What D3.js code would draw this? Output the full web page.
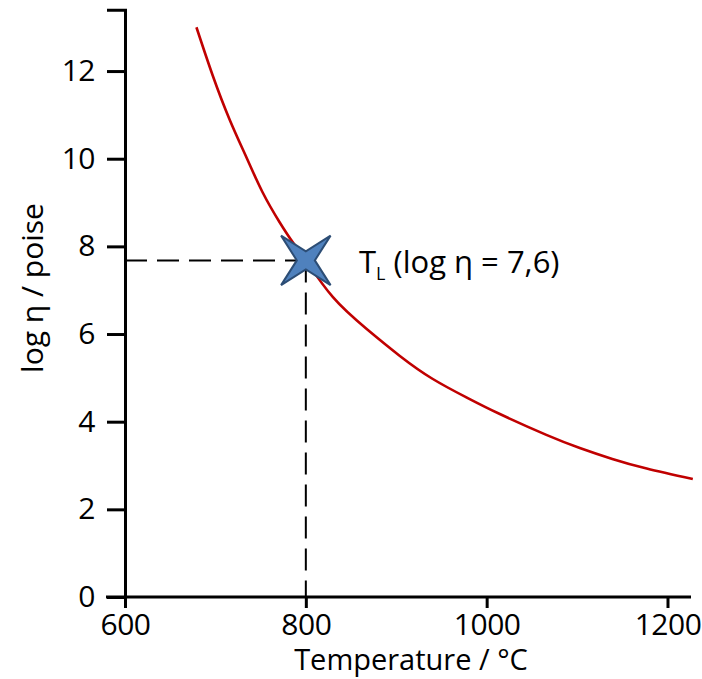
<!DOCTYPE html>
<html lang="en">
  <head>
    <meta charset="utf-8">
    <title>Viscosity curve</title>
    <script src="https://d3js.org/d3.v7.min.js"></script>
    <style>
      body { margin: 0; background: #fff; }
      text { font-family: "Open Sans", sans-serif; fill: #000; }
    </style>
  </head>
  <body>
    <script>
      // values
      const temps = [679, 697, 716, 735, 752, 771, 786, 800, 830, 867, 904, 940, 978, 1014, 1066, 1103, 1139, 1177, 1228]
      const logEta = [13.0, 11.9, 10.88, 10.0, 9.24, 8.55, 8.08, 7.68, 6.84, 6.12, 5.5, 4.98, 4.55, 4.18, 3.7, 3.4, 3.15, 2.93, 2.69]
      const xTicks = [600, 800, 1000, 1200]
      const yTicks = [0, 2, 4, 6, 8, 10, 12]
      const tlTemp = 800
      const tlValue = 7.68

      const w = 702
      const h = 679

      const x = d3.scaleLinear().domain([600, 1226]).range([125, 691])
      const y = d3.scaleLinear().domain([0, 13.4]).range([597, 9.7])

      const svg = d3.select('body')
        .append('svg')
        .attr('width', w)
        .attr('height', h)

      // dashed guides to the T_L point
      svg.append('line')
        .attr('x1', x(600)).attr('x2', x(tlTemp))
        .attr('y1', y(tlValue)).attr('y2', y(tlValue))
        .attr('stroke', '#000').attr('stroke-width', 2)
        .attr('stroke-dasharray', '22,10')
      svg.append('line')
        .attr('x1', x(tlTemp)).attr('x2', x(tlTemp))
        .attr('y1', y(tlValue)).attr('y2', y(0))
        .attr('stroke', '#000').attr('stroke-width', 2)
        .attr('stroke-dasharray', '22,10')

      // curve
      const pts = temps.map((t, i) => [t, logEta[i]])
      svg.append('path')
        .datum(pts)
        .attr('fill', 'none')
        .attr('stroke', '#c00000')
        .attr('stroke-width', 2.6)
        .attr('d', d3.line().x(d => x(d[0])).y(d => y(d[1])).curve(d3.curveNatural))

      // axes
      const xAxis = svg.append('g')
        .attr('transform', 'translate(0,' + y(0) + ')')
        .call(d3.axisBottom(x).tickValues(xTicks).tickFormat(d3.format('d')).tickSizeOuter(0).tickSize(11).tickPadding(6))
      const yAxis = svg.append('g')
        .attr('transform', 'translate(' + x(600) + ',0)')
        .call(d3.axisLeft(y).tickValues(yTicks).tickFormat(d3.format('d')).tickSizeOuter(0).tickSize(18).tickPadding(12))
      ;[xAxis, yAxis].forEach(g => {
        g.selectAll('.domain').attr('stroke-width', 3)
        g.selectAll('.tick line').attr('stroke-width', 3)
        g.selectAll('.tick text')
          .style('font-family', '"Open Sans", sans-serif')
          .style('font-size', '30px')
          .style('letter-spacing', '-0.5px')
          .attr('fill', '#000')
      })
      xAxis.select('.domain').attr('d', 'M' + (x(600) - 19) + ',0H' + x(1226))

      // star marker
      const cx = x(tlTemp)
      const cy = y(tlValue)
      const outer = 35
      const inner = 9
      const starPts = d3.range(8).map(i => {
        const a = Math.PI / 4 + i * Math.PI / 4
        const r = i % 2 === 0 ? outer : inner
        return [cx + r * Math.cos(a), cy + r * Math.sin(a)]
      })
      svg.append('path')
        .attr('d', d3.line()(starPts) + 'Z')
        .attr('fill', '#4f81bd')
        .attr('stroke', '#2c4d75')
        .attr('stroke-width', 2)
        .attr('stroke-linejoin', 'miter')

      // label
      const lbl = svg.append('text')
        .attr('x', 359)
        .attr('y', 273)
        .style('font-size', '31px')
      lbl.append('tspan').text('T')
      lbl.append('tspan').text('L').style('font-size', '18px').attr('dy', 7)
      lbl.append('tspan').text(' (log η = 7,6)').attr('dy', -7)

      // axis titles
      svg.append('text')
        .attr('x', 411)
        .attr('y', 670)
        .attr('text-anchor', 'middle')
        .style('font-size', '29px')
        .text('Temperature / °C')
      svg.append('text')
        .attr('transform', 'translate(43,288) rotate(-90)')
        .attr('text-anchor', 'middle')
        .style('font-size', '30px')
        .text('log η / poise')
    </script>
  </body>
</html>
